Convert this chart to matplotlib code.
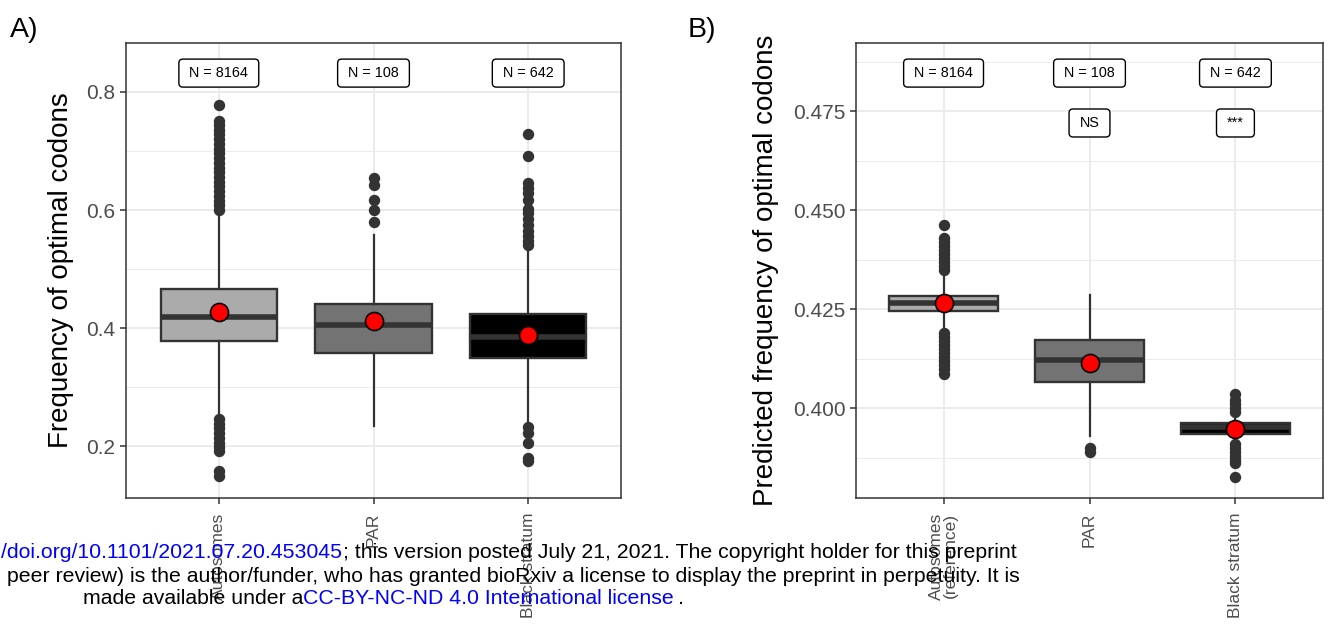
import matplotlib
matplotlib.use("Agg")
import matplotlib.pyplot as plt
from matplotlib.patches import FancyBboxPatch
import numpy as np

plt.rcParams['font.family'] = ['Liberation Sans', 'DejaVu Sans']

# ---------------- data ----------------
cats_a = ["Autosomes", "PAR", "Black stratum"]
cats_b = ["Autosomes\n(reference)", "PAR", "Black stratum"]
counts = ["N = 8164", "N = 108", "N = 642"]
signif_b = ["", "NS", "***"]
fills = ["#ABABAB", "#737373", "#000000"]

# Panel A: frequency of optimal codons
a_q1 = [0.378, 0.357, 0.350]
a_med = [0.418, 0.405, 0.385]
a_q3 = [0.466, 0.441, 0.424]
a_lo = [0.250, 0.234, 0.238]
a_hi = [0.593, 0.558, 0.538]
a_mean = [0.428, 0.412, 0.389]
a_fliers = [
    [0.600, 0.608, 0.616, 0.624, 0.632, 0.640, 0.648, 0.656, 0.664, 0.672,
     0.680, 0.688, 0.696, 0.704, 0.712, 0.720, 0.728, 0.736, 0.744, 0.750, 0.778,
     0.246, 0.238, 0.230, 0.222, 0.214, 0.206, 0.198, 0.192, 0.158, 0.150],
    [0.580, 0.600, 0.617, 0.642, 0.654],
    [0.540, 0.548, 0.556, 0.564, 0.575, 0.585, 0.595, 0.602, 0.617, 0.628,
     0.638, 0.645, 0.692, 0.728, 0.232, 0.222, 0.205, 0.180, 0.174]
]

# Panel B: predicted frequency of optimal codons
b_q1 = [0.4246, 0.4066, 0.3935]
b_med = [0.4265, 0.4122, 0.3952]
b_q3 = [0.4284, 0.4171, 0.3962]
b_lo = [0.4199, 0.3930, 0.3920]
b_hi = [0.4342, 0.4285, 0.3985]
b_mean = [0.4265, 0.4113, 0.3946]
b_fliers = [
    [0.4350, 0.4360, 0.4370, 0.4380, 0.4390, 0.4400, 0.4410, 0.4420, 0.4430, 0.4462,
     0.4190, 0.4180, 0.4170, 0.4160, 0.4150, 0.4140, 0.4130, 0.4120, 0.4110, 0.4100, 0.4085],
    [0.3900, 0.3888],
    [0.3990, 0.4000, 0.4010, 0.4020, 0.4035,
     0.3910, 0.3900, 0.3890, 0.3880, 0.3870, 0.3862, 0.3826]
]

# ---------------- figure ----------------
W, H = 1330, 627
fig = plt.figure(figsize=(W / 100, H / 100), dpi=100)

def ax_rect(l, r, t, b):
    return [l / W, (H - b) / H, (r - l) / W, (b - t) / H]

axA = fig.add_axes(ax_rect(126, 621, 43, 498))
axB = fig.add_axes(ax_rect(856, 1323, 43, 498))

edge = "#333333"
tick_col = "#4D4D4D"
label_texts = []


def draw_panel(ax, cats, q1, med, q3, lo, hi, mean, fliers, ylim, major, minor,
               count_y, sig=None, sig_y=None, fmt="{:.1f}"):
    stats = []
    for i in range(len(cats)):
        stats.append(dict(q1=q1[i], med=med[i], q3=q3[i], whislo=lo[i],
                          whishi=hi[i], fliers=fliers[i], mean=mean[i]))
    pos = np.arange(1, len(cats) + 1)
    bp = ax.bxp(stats, positions=pos, widths=0.75, patch_artist=True,
                showcaps=False, showmeans=True, zorder=3,
                boxprops=dict(edgecolor=edge, linewidth=1.7),
                whiskerprops=dict(color=edge, linewidth=1.6),
                medianprops=dict(color=edge, linewidth=4.0, solid_capstyle='butt'),
                flierprops=dict(marker='o', markersize=7.2, markerfacecolor=edge,
                                markeredgecolor=edge, linestyle='none'),
                meanprops=dict(marker='o', markersize=13, markerfacecolor='#FF0000',
                               markeredgecolor='black', markeredgewidth=1.2))
    for patch, fc in zip(bp['boxes'], fills):
        patch.set_facecolor(fc)
    for m in bp['means']:
        m.set_zorder(5)
    ax.set_xlim(0.4, len(cats) + 0.6)
    ax.set_ylim(*ylim)
    ax.set_yticks(major)
    ax.set_yticks(minor, minor=True)
    ax.set_yticklabels([fmt.format(v) for v in major])
    ax.set_xticks(pos)
    ax.set_xticklabels(cats, rotation=90, va='top', ha='center',
                       multialignment='right', fontsize=12.5, color=tick_col,
                       linespacing=0.95)
    ax.grid(True, which='major', color='#EBEBEB', linewidth=1.4, zorder=0)
    ax.grid(True, which='minor', axis='y', color='#EBEBEB', linewidth=0.7, zorder=0)
    ax.set_axisbelow(True)
    ax.tick_params(axis='y', which='major', labelsize=15, colors=edge,
                   labelcolor=tick_col, length=4.5, width=1.1, pad=3)
    ax.tick_params(axis='y', which='minor', length=0)
    ax.tick_params(axis='x', which='major', colors=edge, labelcolor=tick_col,
                   length=4.5, width=1.1, pad=6)
    for s in ax.spines.values():
        s.set_color(edge)
        s.set_linewidth(1.1)
    for i, t in enumerate(counts):
        label_texts.append(ax.text(pos[i], count_y, t, ha='center', va='center',
                                   fontsize=10.4, zorder=7))
    if sig is not None:
        for i, t in enumerate(sig):
            if t:
                label_texts.append(ax.text(pos[i], sig_y, t, ha='center',
                                           va='center', fontsize=10.4, zorder=7))


draw_panel(axA, cats_a, a_q1, a_med, a_q3, a_lo, a_hi, a_mean, a_fliers,
           (0.112, 0.883), [0.2, 0.4, 0.6, 0.8], [0.3, 0.5, 0.7],
           0.832, fmt="{:.1f}")
axA.set_ylabel("Frequency of optimal codons", fontsize=20, labelpad=9)

draw_panel(axB, cats_b, b_q1, b_med, b_q3, b_lo, b_hi, b_mean, b_fliers,
           (0.3773, 0.4922), [0.400, 0.425, 0.450, 0.475],
           [0.3875, 0.4125, 0.4375, 0.4625, 0.4875],
           0.4846, sig=signif_b, sig_y=0.4720, fmt="{:.3f}")
axB.set_ylabel("Predicted frequency of optimal codons", fontsize=20, labelpad=10)

fig.text(10 / W, (H - 30) / H, "A)", fontsize=20.5, ha='left', va='center')
fig.text(688 / W, (H - 30) / H, "B)", fontsize=20.5, ha='left', va='center')

# bioRxiv footer overlay
fs = 15.35
blue = "#0000FF"
def fy(y):
    return (H - y) / H
fig.text(342 / W, fy(553), "/doi.org/10.1101/2021.07.20.453045", color=blue,
         ha='right', va='center', fontsize=fs)
fig.text(343 / W, fy(553), "; this version posted July 21, 2021. The copyright holder for this preprint",
         color='black', ha='left', va='center', fontsize=fs)
fig.text(1020 / W, fy(577), "peer review) is the author/funder, who has granted bioRxiv a license to display the preprint in perpetuity. It is",
         color='black', ha='right', va='center', fontsize=fs)
fig.text(303 / W, fy(598), "made available under a", color='black',
         ha='right', va='center', fontsize=fs)
fig.text(303 / W, fy(598), "CC-BY-NC-ND 4.0 International license", color=blue,
         ha='left', va='center', fontsize=fs)
fig.text(678 / W, fy(598), ".", color='black',
         ha='left', va='center', fontsize=fs)

# rounded label boxes sized like ggplot's geom_label
fig.canvas.draw()
renderer = fig.canvas.get_renderer()
for t in label_texts:
    bb = t.get_window_extent(renderer)
    cx, cy = (bb.x0 + bb.x1) / 2, (bb.y0 + bb.y1) / 2
    w = bb.width + 21
    h = 28
    patch = FancyBboxPatch((cx - w / 2, cy - h / 2), w, h,
                           boxstyle="round,pad=0,rounding_size=4",
                           transform=None, facecolor='white', edgecolor='black',
                           linewidth=1.0, zorder=6)
    t.axes.add_artist(patch)

fig.savefig("out.png", dpi=100)
